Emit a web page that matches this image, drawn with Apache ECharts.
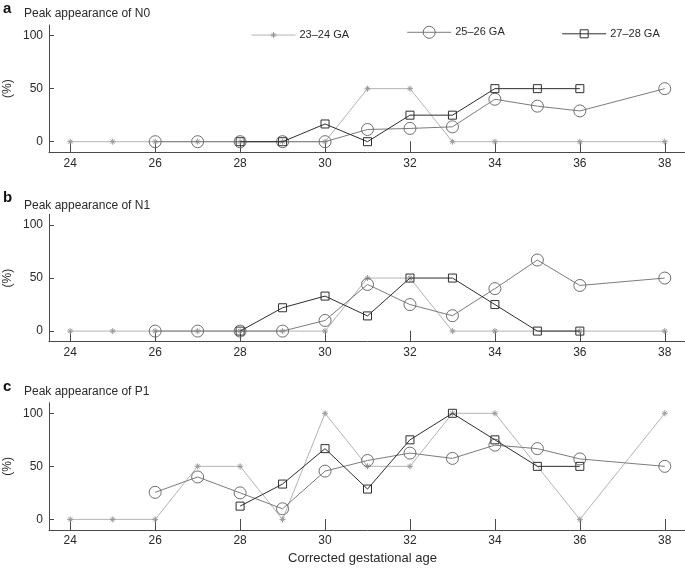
<!DOCTYPE html>
<html>
<head>
<meta charset="utf-8">
<script src="https://cdn.jsdelivr.net/npm/echarts@6/dist/echarts.min.js"></script>
<style>html,body{margin:0;padding:0;background:#fff}#c{width:685px;height:568px}</style>
</head>
<body>
<div id="c"></div>
<script>
// ---- data ----
const groupNames = ['23–24 GA', '25–26 GA', '27–28 GA'];
const panelTitles = ['Peak appearance of N0', 'Peak appearance of N1', 'Peak appearance of P1'];
const panelLetters = ['a', 'b', 'c'];
const xTicks = [24, 26, 28, 30, 32, 34, 36, 38];
const yTicks = [0, 50, 100];
const xLabelName = 'Corrected gestational age';
const yLabelName = '(%)';

const ga2324 = [24, 25, 26, 27, 28, 29, 30, 31, 32, 33, 34, 36, 38];
const ga2526 = [26, 27, 28, 29, 30, 31, 32, 33, 34, 35, 36, 38];
const ga2728 = [28, 29, 30, 31, 32, 33, 34, 35, 36];

const n0_2324 = [0, 0, 0, 0, 0, 0, 0, 50, 50, 0, 0, 0, 0];
const n0_2526 = [0, 0, 0, 0, 0, 11.5, 12.5, 14, 40, 33.5, 29, 50];
const n0_2728 = [0, 0, 16.7, 0, 25, 25, 50, 50, 50];

const n1_2324 = [0, 0, 0, 0, 0, 0, 0, 50, 50, 0, 0, 0, 0];
const n1_2526 = [0, 0, 0, 0, 10, 44, 25, 14.5, 40, 67, 43, 50];
const n1_2728 = [0, 22, 33, 14.3, 50, 50, 25, 0, 0];

const p1_2324 = [0, 0, 0, 50, 50, 0, 100, 50, 50, 100, 100, 0, 100];
const p1_2526 = [25.5, 40, 25, 10, 45.5, 55.5, 62.5, 57.5, 70, 66.7, 57, 50];
const p1_2728 = [12.5, 33.3, 66.7, 28.6, 75, 100, 75, 50, 50];

const panels = [
  [n0_2324, n0_2526, n0_2728],
  [n1_2324, n1_2526, n1_2728],
  [p1_2324, p1_2526, p1_2728]
];
const gaByGroup = [ga2324, ga2526, ga2728];

// ---- styles ----
const FONT = 'Liberation Sans, Arial, sans-serif';
const TXT = '#2a2a2a';
const AXIS = '#4a4a4a';
const gridTops = [25, 214.4, 402.7];
const gridH = 127.3;
const asterisk = 'path://M5 0L5 10M0 5L10 5M1.6 1.6L8.4 8.4M8.4 1.6L1.6 8.4';
const seriesStyle = [
  { symbol: asterisk, size: 6, line: '#b4b4b4', mark: '#9a9a9a', z: 2 },
  { symbol: 'circle', size: 12, line: '#7c7c7c', mark: '#6e6e6e', z: 3 },
  { symbol: 'rect', size: 8, line: '#2e2e2e', mark: '#2e2e2e', z: 4 }
];

const grids = [], xAxes = [], yAxes = [], series = [];
for (let p = 0; p < 3; p++) {
  grids.push({ left: 49, width: 637, top: gridTops[p], height: gridH,
    containLabel: false, outerBoundsMode: 'none' });
  xAxes.push({
    type: 'value', gridIndex: p, min: 23.5, max: 38.5,
    name: p === 2 ? xLabelName : '',
    nameLocation: 'middle', nameGap: 22, nameMoveOverlap: false,
    nameTextStyle: { fontFamily: FONT, fontSize: 13, color: TXT, padding: [0, 10, 0, 0] },
    axisLine: { onZero: false, lineStyle: { color: AXIS, width: 1 } },
    axisTick: { inside: true, length: 11, customValues: xTicks, lineStyle: { color: AXIS } },
    axisLabel: { customValues: xTicks, margin: 5, fontFamily: FONT, fontSize: 12, color: TXT },
    splitLine: { show: false }
  });
  yAxes.push({
    type: 'value', gridIndex: p, min: -10, max: 110,
    name: yLabelName, nameLocation: 'middle', nameGap: 35, nameRotate: 90,
    nameMoveOverlap: false,
    nameTextStyle: { fontFamily: FONT, fontSize: 12, color: TXT },
    axisLine: { show: true, lineStyle: { color: AXIS, width: 1 } },
    axisTick: { show: true, inside: true, length: 5, customValues: yTicks, lineStyle: { color: AXIS } },
    axisLabel: { customValues: yTicks, margin: 6, fontFamily: FONT, fontSize: 12, color: TXT },
    splitLine: { show: false }
  });
  for (let g = 0; g < 3; g++) {
    const st = seriesStyle[g];
    const xs = gaByGroup[g], ys = panels[p][g];
    series.push({
      name: groupNames[g], type: 'line', xAxisIndex: p, yAxisIndex: p,
      data: xs.map((x, i) => [x, ys[i]]),
      symbol: st.symbol, symbolSize: st.size, showAllSymbol: true,
      lineStyle: { color: st.line, width: 1 },
      itemStyle: { color: 'rgba(0,0,0,0)', borderColor: st.mark, borderWidth: 1 },
      emphasis: { disabled: true }, animation: false, z: st.z
    });
  }
}

const legendLefts = [251, 406.7, 561.7];
const legendItemH = [7.5, 15, 10];
const legends = groupNames.map((n, i) => ({
  data: [n], left: legendLefts[i], top: 33.3 - legendItemH[i] / 2, padding: 0,
  itemWidth: 44, itemHeight: legendItemH[i], itemGap: 0,
  lineStyle: { width: 1 },
  itemStyle: { borderWidth: 1, color: 'rgba(0,0,0,0)', borderColor: seriesStyle[i].mark },
  textStyle: { fontFamily: FONT, fontSize: 11, color: TXT, padding: [0, 0, 0, -1] },
  selectedMode: false
}));

const graphics = [];
const letterY = [1, 190, 379];
const titleY = [8, 199.5, 385.5];
for (let p = 0; p < 3; p++) {
  graphics.push({ type: 'text', left: 3, top: letterY[p],
    style: { text: panelLetters[p], font: 'bold 15px ' + FONT, fill: '#111' } });
  graphics.push({ type: 'text', left: 24, top: titleY[p],
    style: { text: panelTitles[p], font: '12px ' + FONT, fill: TXT } });
}

const chart = echarts.init(document.getElementById('c'), null, { renderer: 'canvas' });
chart.setOption({
  animation: false,
  backgroundColor: '#fff',
  grid: grids, xAxis: xAxes, yAxis: yAxes, series: series,
  legend: legends, graphic: graphics
});
</script>
</body>
</html>
